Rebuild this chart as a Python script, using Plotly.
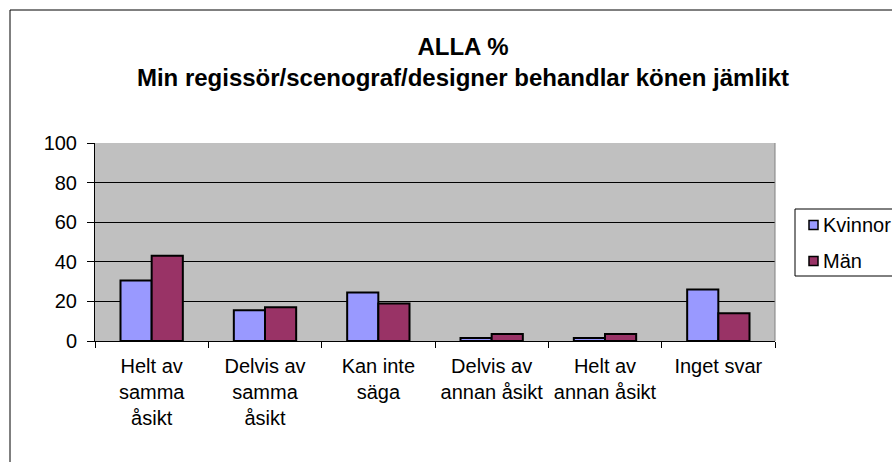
import plotly.graph_objects as go

categories = ["Helt av<br>samma<br>åsikt", "Delvis av<br>samma<br>åsikt", "Kan inte<br>säga",
              "Delvis av<br>annan åsikt", "Helt av<br>annan åsikt", "Inget svar"]
kvinnor = [30.5, 15.5, 24.5, 1.5, 1.5, 26]
man = [43, 17, 19, 3.5, 3.5, 14]
y_ticks = [0, 20, 40, 60, 80, 100]
series_names = ["Kvinnor", "Män"]
series_colors = ["#9999FF", "#993366"]

FONT = "Liberation Sans, Arial, sans-serif"

# plot-area geometry in pixels
L, R, T, B = 95, 775, 143, 341
W, H = 892, 462


def px(x):
    return (x - L) / (R - L)


def py(y):
    return (B - y) / (B - T)


fig = go.Figure()
for name, vals, col in zip(series_names, [kvinnor, man], series_colors):
    fig.add_trace(go.Bar(name=name, x=categories, y=vals, showlegend=False,
                         marker=dict(color=col, line=dict(color="black", width=2))))

fig.update_layout(
    width=W, height=H,
    margin=dict(l=L, r=W - R, t=T, b=H - B),
    paper_bgcolor="white", plot_bgcolor="#C0C0C0",
    font=dict(family=FONT, color="black", size=20),
    barmode="group", bargap=0.45, bargroupgap=0,
    title=dict(text="<b>ALLA %<br>Min regissör/scenograf/designer behandlar könen jämlikt</b>",
               x=463 / W, xanchor="center", y=1 - 55 / H, yanchor="middle",
               font=dict(family=FONT, size=24, color="black")),
    showlegend=False,
)
fig.update_xaxes(type="category", showline=True, linecolor="black", linewidth=1,
                 ticks="outside", tickson="boundaries", ticklen=6, tickcolor="black",
                 showgrid=False, tickfont=dict(size=20), automargin=False,
                 ticklabelstandoff=7)
fig.update_yaxes(range=[0, 100], tickvals=y_ticks, showline=True, linecolor="black",
                 linewidth=1, ticks="outside", ticklen=7, tickcolor="black",
                 showgrid=True, gridcolor="black", gridwidth=1,
                 tickfont=dict(size=20), zeroline=False, automargin=False,
                 ticklabelstandoff=6)

# plot area right border (gray) and outer chart border
fig.add_shape(type="line", xref="paper", yref="paper", x0=1, x1=1, y0=0, y1=1,
              line=dict(color="#808080", width=1))
fig.add_shape(type="rect", xref="paper", yref="paper",
              x0=px(10), x1=px(905), y0=py(475), y1=py(10),
              line=dict(color="black", width=1), layer="below")

# legend box drawn manually (keeps plot area fixed)
fig.add_shape(type="rect", xref="paper", yref="paper",
              x0=px(795), x1=px(905), y0=py(276), y1=py(209),
              line=dict(color="black", width=1), fillcolor="white")
for i, (name, col) in enumerate(zip(series_names, series_colors)):
    cy = 225 + 36 * i
    fig.add_shape(type="rect", xref="paper", yref="paper",
                  x0=px(809), x1=px(818), y0=py(cy + 4.5), y1=py(cy - 4.5),
                  line=dict(color="black", width=1.5), fillcolor=col)
    fig.add_annotation(text=name, xref="paper", yref="paper", x=px(821), y=py(cy),
                       xanchor="left", yanchor="middle", showarrow=False,
                       font=dict(family=FONT, size=20, color="black"))

fig.write_html("out.html", config={"displayModeBar": False},
               post_script="document.body.style.margin='0';")
